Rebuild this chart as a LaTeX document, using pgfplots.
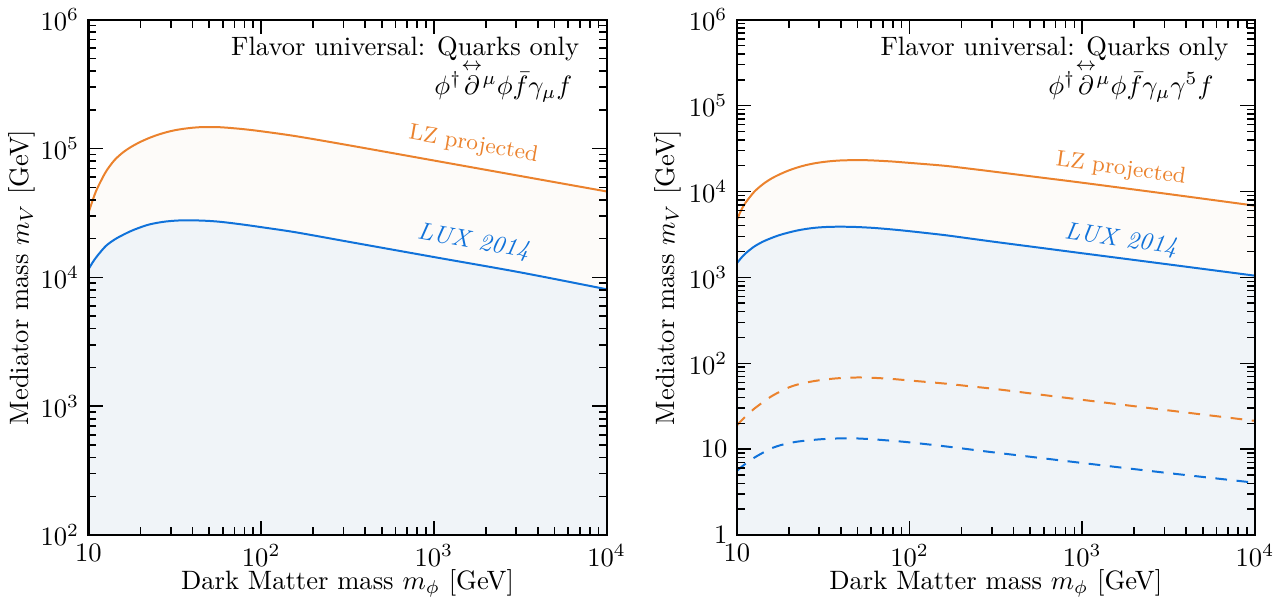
\documentclass[border=0pt]{standalone}
\usepackage{amsmath}
\usepackage{pgfplots}
\pgfplotsset{compat=1.18}
\usepackage{pgfplotstable}
\definecolor{lzor}{RGB}{235,130,45}
\definecolor{luxbl}{RGB}{16,114,218}
\definecolor{bluefill}{RGB}{240,244,248}
\definecolor{orfill}{RGB}{253,251,249}

\pgfplotstableread{
x lz lux
10 31623 11535
10.59 39905 13122
11.22 48753 14622
12.59 65766 17498
14.13 81096 19634
15.85 93325 21380
17.78 103514 23014
19.95 112460 24434
22.39 120500 25704
25.12 127640 26546
28.18 133660 27164
31.62 138680 27542
35.48 142230 27733
39.81 144880 27733
44.67 146550 27606
50.12 146890 27416
56.23 146550 27102
63.10 145210 26669
79.43 141250 25645
100 136140 24547
158.5 124740 22387
316.2 106410 18967
1000 80724 14388
3162 61235 10940
10000 46452 8091
}\leftdata

\pgfplotstableread{
x lz lux lzd luxd
10 4645 1459 18.84 5.559
10.59 6026 1679 21.38 6.166
11.22 7362 1897 23.99 6.761
12.59 9863 2280 29.51 7.943
14.13 12106 2600 35.08 9.078
15.85 14125 2871 41.21 10.23
17.78 15888 3119 46.77 11.09
19.95 17539 3327 52.24 11.75
22.39 19011 3516 56.49 12.25
25.12 20277 3664 59.57 12.59
28.18 21281 3776 62.23 12.88
31.62 22029 3846 64.27 13.12
35.48 22594 3882 66.07 13.27
39.81 22961 3890 67.30 13.37
44.67 23121 3882 68.08 13.40
50.12 23174 3855 68.39 13.34
56.23 23121 3811 68.23 13.18
63.10 22909 3758 67.61 13.00
79.43 22336 3614 65.77 12.53
100 21528 3451 63.10 12.02
158.5 19953 3112 58.21 10.84
223.9 18408 2835 54.01 9.943
316.2 16904 2582 50.12 9.12
562.3 14622 2221 43.40 7.943
1000 12647 1910 37.58 6.918
3162 9333 1416 28.31 5.272
10000 6839 1047 21.38 4.074
}\rightdata

\begin{document}
\begin{tikzpicture}
\begin{axis}[
  scale only axis, width=195pt, height=194pt,
  xmode=log, ymode=log, xmin=10, xmax=10000,
  xtick={10,100,1000,10000},
  xticklabels={$10$,$10^2$,$10^3$,$10^4$},
  tick align=inside, tick pos=both,
  major tick length=5.5pt, minor tick length=3pt,
  every tick/.style={black, line width=0.6pt},
  axis line style={line width=0.8pt},
  xlabel={Dark Matter mass $m_\phi$ [GeV]},
  ylabel={Mediator mass $m_V$ [GeV]},
  every axis x label/.style={at={(rel axis cs:0.5,-0.105)}, anchor=base},
  every axis y label/.style={at={(rel axis cs:-0.128,0.5)}, rotate=90, anchor=center},
  axis on top,
  ymin=100, ymax=1e6,
  ytick={1e2,1e3,1e4,1e5,1e6},
  yticklabels={$10^2$,$10^3$,$10^4$,$10^5$,$10^6$},
]
\addplot[fill=orfill, draw=none] table[x=x,y=lz] {\leftdata} \closedcycle;
\addplot[fill=bluefill, draw=none] table[x=x,y=lux] {\leftdata} \closedcycle;
\addplot[lzor, line width=0.75pt, smooth] table[x=x,y=lz] {\leftdata};
\addplot[luxbl, line width=0.75pt, smooth] table[x=x,y=lux] {\leftdata};
\node[anchor=base east] at (rel axis cs:0.965,0.930) {Flavor universal: Quarks only};
\node[anchor=base east] at (rel axis cs:0.952,0.855) {$\phi^\dagger\overset{\leftrightarrow}{\partial}{}^{\mu}\phi\bar f\gamma_\mu f$};
\node[lzor, rotate=-10, font=\fontsize{8.5}{10}\selectfont] at (axis cs:1694,1.07e5) {LZ projected};
\node[luxbl, rotate=-10, font=\fontsize{9.2}{11}\selectfont\itshape] at (axis cs:1694,1.87e4) {LUX 2014};
\end{axis}

\begin{axis}[at={(244pt,0)},
  scale only axis, width=195pt, height=194pt,
  xmode=log, ymode=log, xmin=10, xmax=10000,
  xtick={10,100,1000,10000},
  xticklabels={$10$,$10^2$,$10^3$,$10^4$},
  tick align=inside, tick pos=both,
  major tick length=5.5pt, minor tick length=3pt,
  every tick/.style={black, line width=0.6pt},
  axis line style={line width=0.8pt},
  xlabel={Dark Matter mass $m_\phi$ [GeV]},
  ylabel={Mediator mass $m_V$ [GeV]},
  every axis x label/.style={at={(rel axis cs:0.5,-0.105)}, anchor=base},
  every axis y label/.style={at={(rel axis cs:-0.133,0.5)}, rotate=90, anchor=center},
  axis on top,
  ymin=1, ymax=1e6,
  ytick={1,10,1e2,1e3,1e4,1e5,1e6},
  yticklabels={$1$,$10$,$10^2$,$10^3$,$10^4$,$10^5$,$10^6$},
]
\addplot[fill=orfill, draw=none] table[x=x,y=lz] {\rightdata} \closedcycle;
\addplot[fill=bluefill, draw=none] table[x=x,y=lux] {\rightdata} \closedcycle;
\addplot[lzor, line width=0.75pt, smooth] table[x=x,y=lz] {\rightdata};
\addplot[luxbl, line width=0.75pt, smooth] table[x=x,y=lux] {\rightdata};
\addplot[lzor, line width=0.75pt, smooth, dash pattern=on 4.4pt off 3.6pt] table[x=x,y=lzd] {\rightdata};
\addplot[luxbl, line width=0.75pt, smooth, dash pattern=on 4.4pt off 3.6pt] table[x=x,y=luxd] {\rightdata};
\node[anchor=base east] at (rel axis cs:0.967,0.930) {Flavor universal: Quarks only};
\node[anchor=base east] at (rel axis cs:0.938,0.855) {$\phi^\dagger\overset{\leftrightarrow}{\partial}{}^{\mu}\phi\bar f\gamma_\mu\gamma^5 f$};
\node[lzor, rotate=-8, font=\fontsize{8.5}{10}\selectfont] at (axis cs:1675,1.82e4) {LZ projected};
\node[luxbl, rotate=-8, font=\fontsize{9.2}{11}\selectfont\itshape] at (axis cs:1675,2.69e3) {LUX 2014};
\end{axis}
\end{tikzpicture}
\end{document}
